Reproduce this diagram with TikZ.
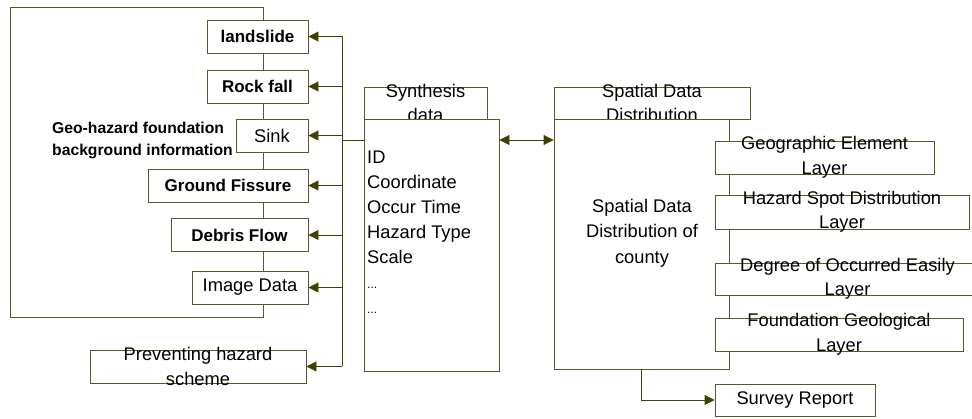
\documentclass[tikz,border=0pt]{standalone}
\usepackage{fontspec}
\setmainfont{Liberation Sans}
\usetikzlibrary{arrows.meta}
\definecolor{olivedark}{RGB}{64,64,0}
\definecolor{boxline}{RGB}{88,88,48}
\tikzset{
  box/.style={draw=boxline, fill=white, line width=0.9pt, inner sep=0pt,
    font=\fontsize{18.3}{24}\selectfont},
  bbox/.style={box, font=\bfseries\fontsize{17}{22}\selectfont},
  txt/.style={align=center, inner sep=0pt, font=\fontsize{18.3}{24.5}\selectfont},
  link/.style={draw=olivedark, line width=0.9pt},
  arr/.style={link, -{Triangle[length=10pt,width=10pt]}},
}
\begin{document}
\begin{tikzpicture}[x=1pt, y=-1pt]
    \useasboundingbox (0,0) rectangle (972,419);
    % background frame of the hazard list
    \node[draw=boxline, line width=0.9pt, minimum width=253pt, minimum height=310pt] (geobox) at (136.5,162) {};
    \node[txt, align=left, anchor=west, font=\bfseries\fontsize{15.7}{22}\selectfont] (geotxt) at (52,140)
        {Geo-hazard foundation\\background information};
    % hazard boxes
    \node[bbox, minimum width=101pt, minimum height=33pt] (landslide) at (257.5,36.5) {landslide};
    \node[bbox, minimum width=101pt, minimum height=33pt] (rockfall) at (257.5,86.5) {Rock fall};
    \node[box, minimum width=72pt, minimum height=33pt] (sink) at (272,135.5) {Sink};
    \node[bbox, minimum width=160pt, minimum height=33pt] (fissure) at (228,185.5) {Ground Fissure};
    \node[bbox, minimum width=137pt, minimum height=33pt] (debris) at (239.5,235) {Debris Flow};
    \node[box, minimum width=116pt, minimum height=33pt] (image) at (250,287.5) {Image Data};
    \node[box, minimum width=216pt, minimum height=33pt] (scheme) at (198,366.5) {};
    \node[txt] (schemetxt) at (scheme) {Preventing hazard\\scheme};
    % synthesis data
    \node[box, minimum width=123pt, minimum height=32pt] (synhead) at (425.5,103) {};
    \node[txt] (synheadtxt) at (synhead) {Synthesis\\data};
    \node[box, minimum width=135pt, minimum height=252pt] (syn) at (431.5,245) {};
    \node[txt, align=left, anchor=west, font=\fontsize{18.3}{25}\selectfont] (synlist) at (367,232)
        {ID\\Coordinate\\Occur Time\\Hazard Type\\Scale\\{\fontsize{12}{25}\selectfont...}\\{\fontsize{12}{25}\selectfont...}};
    % spatial data distribution
    \node[box, minimum width=196pt, minimum height=32pt] (spahead) at (652,103) {};
    \node[txt] (spaheadtxt) at (spahead) {Spatial Data\\Distribution};
    \node[box, minimum width=175pt, minimum height=250pt] (spa) at (641.5,244) {};
    \node[txt, font=\fontsize{18.3}{25.5}\selectfont] (spatxt) at (642,233) {Spatial Data\\Distribution of\\county};
    % layers
    \node[box, minimum width=219pt, minimum height=33pt] (geolay) at (824.5,157.5) {};
    \node[txt] (geolaytxt) at (geolay) {Geographic Element\\Layer};
    \node[box, minimum width=254pt, minimum height=34pt] (spotlay) at (842,212) {};
    \node[txt] (spotlaytxt) at (spotlay) {Hazard Spot Distribution\\Layer};
    \node[box, minimum width=265pt, minimum height=32pt] (degreelay) at (847.5,279) {};
    \node[txt] (degreelaytxt) at (degreelay) {Degree of Occurred Easily\\Layer};
    \node[box, minimum width=248pt, minimum height=33pt] (foundlay) at (839,334.5) {};
    \node[txt] (foundlaytxt) at (foundlay) {Foundation Geological\\Layer};
    \node[box, minimum width=160pt, minimum height=32pt] (report) at (795,400) {Survey Report};
    % connectors
    \coordinate (trunk) at (342,140);
    \draw[link] (trunk |- landslide.east) -- (trunk |- scheme.east);
    \foreach \b in {landslide,rockfall,sink,fissure,debris,image,scheme} {
        \draw[arr] (trunk |- \b.east) -- (\b.east);
    }
    \draw[link] (trunk) -- (trunk -| syn.west);
    \draw[link, {Triangle[length=10pt,width=10pt]}-{Triangle[length=10pt,width=10pt]}]
        (trunk -| syn.east) -- (trunk -| spa.west);
    \draw[arr] (spa.south) |- (report.west);
\end{tikzpicture}
\end{document}
